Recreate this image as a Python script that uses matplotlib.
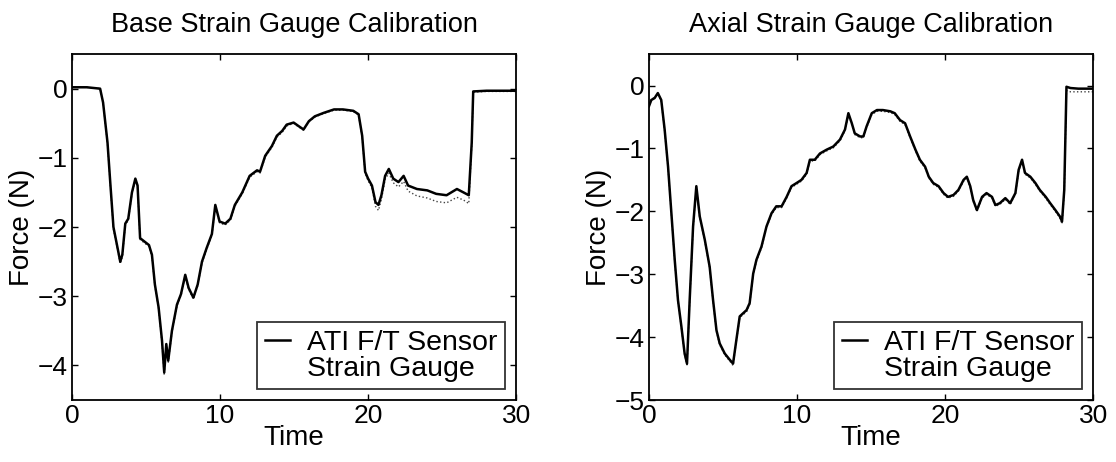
import matplotlib
matplotlib.use("Agg")
from matplotlib import pyplot as plt

plt.rcParams['font.family'] = ['Liberation Sans', 'DejaVu Sans']

# base strain gauge calibration (left)
base_t = [0, 1.0, 1.9, 2.1, 2.4, 2.6, 2.8, 3.04, 3.26, 3.4, 3.6, 3.8, 4.05, 4.28, 4.43,
          4.6, 4.84, 5.2, 5.4, 5.6, 5.85, 6.08, 6.23, 6.37, 6.5, 6.75, 7.09, 7.36, 7.65,
          7.88, 8.2, 8.49, 8.78, 9.1, 9.45, 9.68, 9.97, 10.35, 10.7, 11.0, 11.5, 12.0,
          12.5, 12.7, 13.05, 13.5, 13.84, 14.2, 14.5, 14.97, 15.3, 15.64, 16.0, 16.4,
          17.0, 17.7, 18.3, 19.0, 19.36, 19.6, 19.8, 20.0, 20.26, 20.5, 20.7, 20.9,
          21.15, 21.4, 21.7, 22.05, 22.4, 22.7, 23.3, 24.0, 24.6, 25.3, 26.0, 26.45,
          26.8, 27.0, 27.1, 28.0, 30.0]
base_ati = [0.02, 0.02, 0.0, -0.2, -0.78, -1.4, -2.0, -2.26, -2.5, -2.4, -1.95, -1.88,
            -1.5, -1.3, -1.4, -2.16, -2.2, -2.26, -2.4, -2.83, -3.16, -3.64, -4.1, -3.69,
            -3.93, -3.5, -3.12, -2.97, -2.69, -2.88, -3.02, -2.83, -2.5, -2.3, -2.1,
            -1.68, -1.92, -1.95, -1.88, -1.68, -1.5, -1.26, -1.18, -1.2, -0.97, -0.83,
            -0.68, -0.61, -0.52, -0.49, -0.54, -0.59, -0.47, -0.4, -0.35, -0.3, -0.3,
            -0.32, -0.37, -0.68, -1.2, -1.3, -1.4, -1.64, -1.68, -1.54, -1.26, -1.16,
            -1.3, -1.35, -1.26, -1.4, -1.45, -1.47, -1.52, -1.54, -1.45, -1.5, -1.54,
            -0.78, -0.04, -0.03, -0.03]
base_sg = [0.02, 0.02, 0.0, -0.2, -0.8, -1.42, -2.03, -2.28, -2.53, -2.43, -1.97, -1.9,
           -1.52, -1.32, -1.42, -2.18, -2.22, -2.28, -2.42, -2.85, -3.18, -3.67, -4.14,
           -3.72, -3.96, -3.52, -3.14, -2.99, -2.71, -2.9, -3.04, -2.85, -2.52, -2.32,
           -2.12, -1.7, -1.94, -1.97, -1.9, -1.7, -1.52, -1.28, -1.2, -1.22, -0.99,
           -0.85, -0.7, -0.63, -0.54, -0.5, -0.55, -0.6, -0.48, -0.41, -0.36, -0.31,
           -0.31, -0.33, -0.38, -0.7, -1.22, -1.33, -1.43, -1.7, -1.76, -1.6, -1.31,
           -1.22, -1.36, -1.42, -1.34, -1.48, -1.55, -1.58, -1.63, -1.65, -1.57, -1.61,
           -1.66, -0.82, -0.05, -0.04, -0.04]

# axial strain gauge calibration (right)
axial_t = [0, 0.16, 0.38, 0.6, 0.83, 1.06, 1.29, 1.5, 1.74, 1.96, 2.19, 2.41, 2.57,
           2.75, 2.98, 3.2, 3.43, 3.77, 4.1, 4.33, 4.56, 4.78, 5.12, 5.46, 5.68, 5.9,
           6.13, 6.36, 6.59, 6.8, 7.04, 7.26, 7.6, 7.94, 8.28, 8.6, 8.96, 9.3, 9.63,
           9.97, 10.3, 10.65, 10.87, 11.2, 11.55, 12.0, 12.45, 12.9, 13.24, 13.47,
           13.7, 13.9, 14.26, 14.48, 14.7, 15.05, 15.4, 15.8, 16.3, 16.6, 16.96, 17.3,
           17.64, 18.0, 18.3, 18.65, 18.9, 19.2, 19.56, 19.9, 20.2, 20.57, 20.9, 21.25,
           21.47, 21.7, 21.9, 22.15, 22.5, 22.8, 23.17, 23.4, 23.7, 24.07, 24.4, 24.75,
           24.97, 25.2, 25.4, 25.76, 26.1, 26.4, 26.8, 27.1, 27.45, 27.75, 27.9, 28.05,
           28.2, 28.47, 29.0, 30.0]
axial_ati = [-0.33, -0.23, -0.2, -0.12, -0.23, -0.7, -1.29, -1.98, -2.77, -3.41, -3.83,
             -4.26, -4.42, -3.41, -2.24, -1.6, -2.08, -2.45, -2.88, -3.41, -3.89, -4.1,
             -4.26, -4.36, -4.42, -4.05, -3.67, -3.62, -3.57, -3.46, -2.99, -2.77,
             -2.56, -2.24, -2.03, -1.92, -1.92, -1.77, -1.6, -1.55, -1.5, -1.39, -1.18,
             -1.18, -1.08, -1.02, -0.97, -0.86, -0.7, -0.44, -0.6, -0.76, -0.81, -0.81,
             -0.65, -0.44, -0.39, -0.39, -0.41, -0.44, -0.55, -0.6, -0.81, -1.02, -1.18,
             -1.29, -1.45, -1.55, -1.6, -1.71, -1.77, -1.74, -1.66, -1.5, -1.45, -1.6,
             -1.82, -1.98, -1.77, -1.71, -1.77, -1.9, -1.87, -1.79, -1.87, -1.71, -1.34,
             -1.18, -1.39, -1.45, -1.55, -1.66, -1.77, -1.87, -1.98, -2.08, -2.16,
             -1.66, -0.02, -0.04, -0.05, -0.05]
axial_sg = [-0.3, -0.22, -0.19, -0.13, -0.25, -0.72, -1.31, -2.0, -2.79, -3.43, -3.85,
            -4.28, -4.44, -3.44, -2.27, -1.62, -2.1, -2.47, -2.9, -3.43, -3.91, -4.12,
            -4.28, -4.38, -4.45, -4.07, -3.69, -3.64, -3.6, -3.48, -3.01, -2.79,
            -2.58, -2.26, -2.05, -1.94, -1.94, -1.79, -1.62, -1.57, -1.52, -1.41, -1.2,
            -1.2, -1.1, -1.04, -0.99, -0.88, -0.72, -0.46, -0.62, -0.78, -0.83, -0.83,
            -0.67, -0.46, -0.41, -0.41, -0.43, -0.46, -0.57, -0.62, -0.83, -1.04, -1.2,
            -1.31, -1.47, -1.57, -1.62, -1.73, -1.79, -1.76, -1.68, -1.52, -1.47, -1.62,
            -1.84, -2.0, -1.79, -1.73, -1.79, -1.92, -1.89, -1.81, -1.89, -1.73, -1.36,
            -1.2, -1.41, -1.47, -1.57, -1.68, -1.79, -1.89, -2.0, -2.1, -2.2,
            -1.7, -0.08, -0.1, -0.1, -0.1]

labels = ['ATI F/T Sensor', 'Strain Gauge']

fig = plt.figure(figsize=(11.16, 4.62), dpi=100)
ax1 = fig.add_axes([0.0645, 0.134, 0.398, 0.749])
ax2 = fig.add_axes([0.5815, 0.134, 0.398, 0.749])

panels = [
    (ax1, base_t, base_ati, base_sg, 'Base Strain Gauge Calibration', (-4.5, 0.5), [-4, -3, -2, -1, 0]),
    (ax2, axial_t, axial_ati, axial_sg, 'Axial Strain Gauge Calibration', (-5, 0.5), [-5, -4, -3, -2, -1, 0]),
]

for ax, t, ati, sg, title, ylim, yt in panels:
    ax.plot(t, sg, color='#444444', lw=1.0, ls=':', label=labels[1])
    ax.plot(t, ati, color='black', lw=1.8, label=labels[0])
    ax.set_xlim(0, 30)
    ax.set_ylim(*ylim)
    ax.set_xticks([0, 10, 20, 30])
    ax.set_yticks(yt)
    ax.set_yticklabels(['\u2212' + str(-v) if v < 0 else str(v) for v in yt])
    ax.tick_params(direction='in', top=True, right=True, labelsize=19, length=4,
                   width=1, pad=3)
    for s in ax.spines.values():
        s.set_linewidth(1.3)
    ax.set_title(title, fontsize=19.5, pad=16)
    ax.set_xlabel('Time', fontsize=20, labelpad=-2)
    ax.set_ylabel('Force (N)', fontsize=20, labelpad=2)
    h, l = ax.get_legend_handles_labels()
    leg = ax.legend(h[::-1], l[::-1], loc='lower right', fontsize=20.5, frameon=True,
                    fancybox=False, edgecolor='black', handlelength=0.9,
                    handletextpad=0.6, labelspacing=0.0, borderpad=0.25,
                    borderaxespad=0.4)
    leg.get_frame().set_linewidth(1.3)
    leg.get_lines()[1].set_visible(False)

fig.savefig('out.png', dpi=100)
